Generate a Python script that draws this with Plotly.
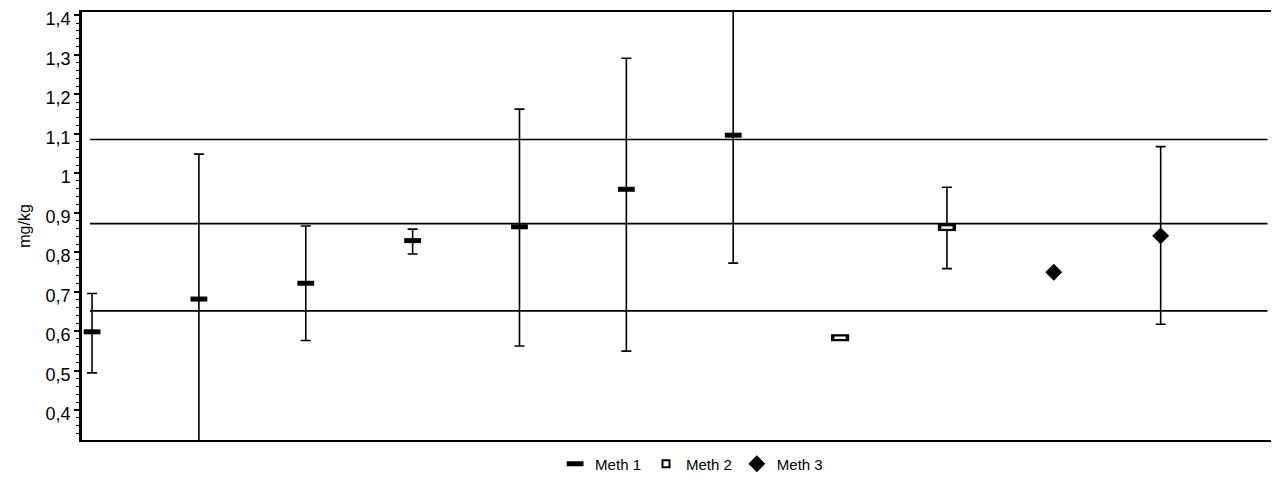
import numpy as np
import plotly.graph_objects as go

# ---- data ----
meth1_x = [0, 1, 2, 3, 4, 5, 6]
meth1_y = [0.598, 0.681, 0.721, 0.829, 0.864, 0.959, 1.096]
meth1_hi = [0.695, 1.048, 0.866, 0.858, 1.162, 1.291, 1.45]
meth1_lo = [0.494, 0.30, 0.576, 0.795, 0.562, 0.549, 0.772]

meth2_x = [7, 8]
meth2_y = [0.583, 0.862]
meth2_hi = [np.nan, 0.964]
meth2_lo = [np.nan, 0.758]

meth3_x = [9, 10]
meth3_y = [0.749, 0.841]
meth3_hi = [np.nan, 1.067]
meth3_lo = [np.nan, 0.617]

ref_levels = [1.085, 0.872, 0.651]
ref_x_span = [-0.02, 11.0]

y_ticks = [0.4, 0.5, 0.6, 0.7, 0.8, 0.9, 1.0, 1.1, 1.2, 1.3, 1.4]
y_range = [0.324, 1.408]
x_range = [-0.094, 11.07]

FONT = "Liberation Sans, Arial, sans-serif"


def err(y, hi, lo):
    y = np.array(y, dtype=float)
    return dict(type="data", symmetric=False,
                array=np.array(hi, dtype=float) - y,
                arrayminus=y - np.array(lo, dtype=float),
                color="black", thickness=1.6, width=5)


fig = go.Figure()

fig.add_trace(go.Scatter(
    x=meth1_x, y=meth1_y, mode="markers", name="Meth 1",
    marker=dict(symbol="line-ew", size=12, color="black",
                line=dict(color="black", width=5)),
    error_y=err(meth1_y, meth1_hi, meth1_lo)))

# Meth 2: open rectangle drawn as a thick black bar with a white core
fig.add_trace(go.Scatter(
    x=meth2_x, y=meth2_y, mode="markers", name="Meth 2",
    legendgroup="m2", showlegend=False,
    marker=dict(symbol="line-ew", size=13, color="black",
                line=dict(color="black", width=7)),
    error_y=err(meth2_y, meth2_hi, meth2_lo)))

fig.add_trace(go.Scatter(
    x=meth2_x, y=meth2_y, mode="markers", name="Meth 2",
    legendgroup="m2", showlegend=False, hoverinfo="skip",
    marker=dict(symbol="line-ew", size=8, color="white",
                line=dict(color="white", width=2.5))))

# legend entry for Meth 2 (open marker icon)
fig.add_trace(go.Scatter(
    x=[None], y=[None], mode="markers", name="Meth 2",
    legendgroup="m2", showlegend=True,
    marker=dict(symbol="square-open", size=7, color="black",
                line=dict(color="black", width=2))))

fig.add_trace(go.Scatter(
    x=meth3_x, y=meth3_y, mode="markers", name="Meth 3",
    marker=dict(symbol="diamond", size=13, color="black",
                line=dict(width=0)),
    error_y=err(meth3_y, meth3_hi, meth3_lo)))

for lv in ref_levels:
    fig.add_shape(type="line", xref="x", yref="y",
                  x0=ref_x_span[0], x1=ref_x_span[1], y0=lv, y1=lv,
                  line=dict(color="black", width=1.6), layer="below")

# right border
fig.add_shape(type="line", xref="paper", yref="paper", x0=1, x1=1, y0=0, y1=1,
              line=dict(color="black", width=1.5))

fig.update_layout(
    width=1279, height=486,
    margin=dict(l=74, r=12, t=4, b=54, autoexpand=False),
    paper_bgcolor="white", plot_bgcolor="white",
    separators=", ",
    font=dict(family=FONT, color="black"),
    showlegend=True,
    legend=dict(orientation="h", x=0.511, xanchor="center", y=-0.056,
                yanchor="middle", font=dict(size=15, family=FONT),
                bgcolor="rgba(0,0,0,0)", itemwidth=30),
    xaxis=dict(range=x_range, showticklabels=False, ticks="",
               showgrid=False, zeroline=False, showline=True,
               linecolor="black", linewidth=1.5, mirror=True),
    yaxis=dict(range=y_range, tickmode="array", tickvals=y_ticks,
               ticks="outside", ticklen=5, tickwidth=1.5, tickcolor="black",
               tickfont=dict(size=18, family=FONT),
               ticklabeloverflow="allow", ticklabelshift=4,
               minor=dict(dtick=0.02, tick0=0.4, ticks="outside", ticklen=3,
                          tickwidth=1.2, tickcolor="black", showgrid=False),
               showgrid=False, zeroline=False, showline=True,
               linecolor="black", linewidth=2.5, mirror=False,
               title=dict(text="mg/kg", font=dict(size=16, family=FONT),
                          standoff=12)),
)

fig.write_html("out.html")
